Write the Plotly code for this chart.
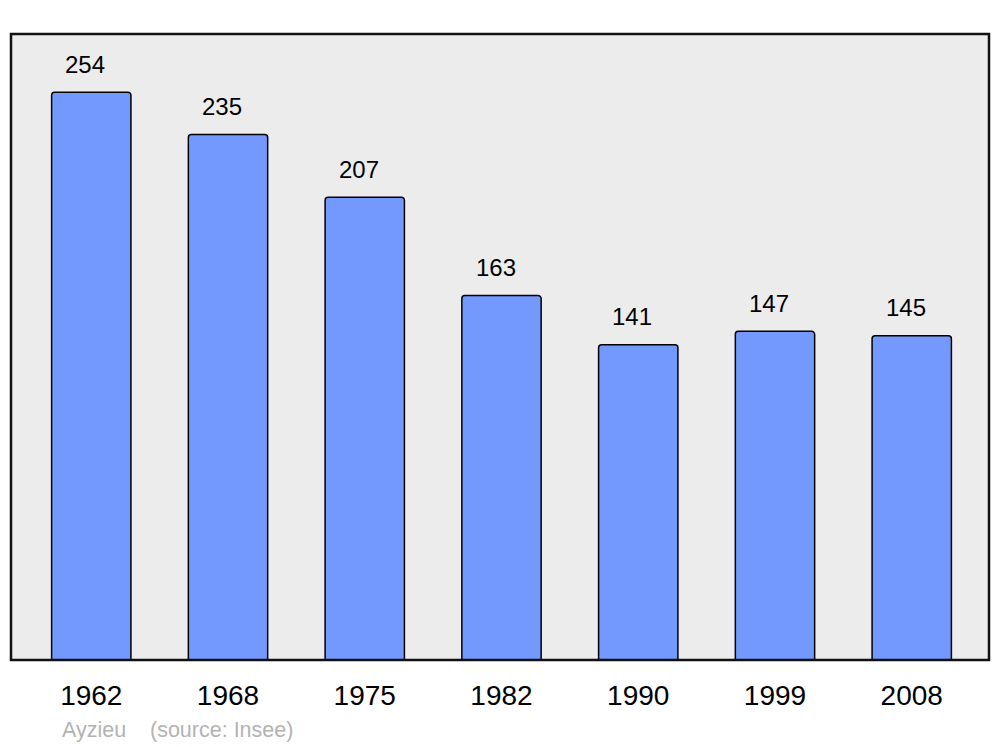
import plotly.graph_objects as go

years = ["1962", "1968", "1975", "1982", "1990", "1999", "2008"]
population = [254, 235, 207, 163, 141, 147, 145]
place = "Ayzieu"
source = "(source: Insee)"

fig = go.Figure()
fig.add_trace(go.Bar(
    x=years, y=population, width=0.58,
    marker=dict(color="#7399ff", line=dict(color="black", width=1.5), cornerradius=3),
    hoverinfo="skip",
))

for i, v in enumerate(population):
    fig.add_annotation(x=i, y=v, text=str(v), showarrow=False, yanchor="middle",
                       yshift=28, xshift=-6,
                       font=dict(family="Liberation Sans, Arial", size=24, color="black"))

fig.add_shape(type="rect", xref="paper", yref="paper", x0=0, y0=0, x1=1, y1=1,
              line=dict(color="#111111", width=2.5), layer="above")

fig.add_annotation(xref="paper", yref="paper", x=(60 - 11) / 978, y=-(730 - 660) / 626,
                   xanchor="left", yanchor="middle", text=place, showarrow=False,
                   font=dict(family="Liberation Sans, Arial", size=21.5, color="#b3b3b3"))
fig.add_annotation(xref="paper", yref="paper", x=(148 - 11) / 978, y=-(730 - 660) / 626,
                   xanchor="left", yanchor="middle", text=source, showarrow=False,
                   font=dict(family="Liberation Sans, Arial", size=21.5, color="#b3b3b3"))

fig.update_layout(
    width=1000, height=747,
    margin=dict(l=11, r=11, t=34, b=87),
    paper_bgcolor="white", plot_bgcolor="#ececec",
    showlegend=False,
    xaxis=dict(type="category", range=[-0.587, 6.565], showgrid=False, zeroline=False,
               ticks="", ticklabelstandoff=16,
               tickfont=dict(family="Liberation Sans, Arial", size=28, color="black")),
    yaxis=dict(range=[0, 280], showgrid=False, zeroline=False, showticklabels=False, ticks=""),
)

fig.write_html("out.html", config={"displayModeBar": False},
               post_script="document.body.style.margin='0';")
